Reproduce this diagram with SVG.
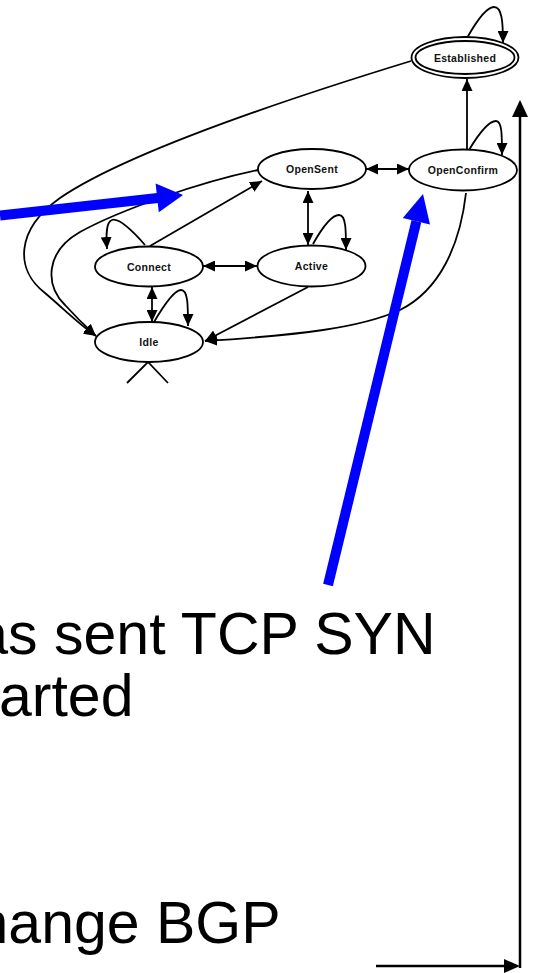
<svg xmlns="http://www.w3.org/2000/svg" width="533" height="973" viewBox="0 0 533 973">
  <defs>
    <style>
      .node ellipse { fill: #ffffff; stroke: #000000; stroke-width: 1.8; }
      .node text { font-family: "Liberation Sans", Arial, sans-serif; font-weight: bold; font-size: 10.5px; letter-spacing: 0.3px; text-anchor: middle; fill: #111111; }
      .edge { fill: none; stroke: #000000; stroke-width: 1.8; }
      .one { marker-end: url(#head); }
      .two { marker-start: url(#head); marker-end: url(#head); }
      .note { font-family: "Liberation Sans", Arial, Helvetica, sans-serif; font-size: 59px; fill: #000000; }
      .pointer { stroke: #0000ff; stroke-width: 10; fill: none; }
      .pointer-head { fill: #0000ff; }
      .axis { stroke: #000000; stroke-width: 2.5; fill: none; }
    </style>
    <marker id="head" markerUnits="userSpaceOnUse" markerWidth="12" markerHeight="11" refX="12" refY="5.5" orient="auto-start-reverse">
      <path d="M0,0 L12,5.5 L0,11 z" fill="#000000"/>
    </marker>
  </defs>

  <rect width="533" height="973" fill="#ffffff"/>

  <!-- state machine transitions -->
  <g id="connectors">
    <path class="edge one" d="M411,61 C300,95 130,150 60,198 C15,230 15,270 45,293 C65,310 80,325 96,336"/>
    <path class="edge one" d="M258,170 C200,182 120,210 80,232 C45,252 45,285 65,305 C75,316 85,326 96,336"/>
    <path class="edge one" d="M466,193 C460,245 440,290 400,310 C360,328 300,335 205,341"/>
    <path class="edge one" d="M308,287 L205,341"/>
    <path class="edge one" d="M150,246 L262,181"/>
    <path class="edge one" d="M467,150 L467,79"/>
    <path class="edge two" d="M366,169 L409,169"/>
    <path class="edge two" d="M308,191 L308,245"/>
    <path class="edge two" d="M203,266 L257,266"/>
    <path class="edge two" d="M152,287 L152,322"/>
    <!-- self transitions -->
    <path class="edge one" d="M467,38 C476,22 486,7 494,7 C502,7 503,22 503,43"/>
    <path class="edge one" d="M469,150 C478,135 488,121 496,121 C502,121 502,135 502,155"/>
    <path class="edge one" d="M313,244 C322,228 332,215 339,215 C346,215 346,230 346,250"/>
    <path class="edge one" d="M145,245 C130,228 118,218 112,220 C106,222 106,235 107,249"/>
    <path class="edge one" d="M154,322 C164,305 174,290 181,290 C188,290 188,305 188,326"/>
    <!-- initial state wedge -->
    <path class="edge" d="M127,383 L148,362 L168,383"/>
  </g>

  <g id="established" class="node">
    <ellipse cx="465" cy="57.5" rx="53.5" ry="20.5"/>
    <ellipse cx="465" cy="57.5" rx="49.5" ry="16.5"/>
    <text x="465" y="61.5">Established</text>
  </g>
  <g id="opensent" class="node">
    <ellipse cx="312" cy="169" rx="54" ry="20"/>
    <text x="312" y="173">OpenSent</text>
  </g>
  <g id="openconfirm" class="node">
    <ellipse cx="463" cy="170" rx="54" ry="20.5"/>
    <text x="463" y="174">OpenConfirm</text>
  </g>
  <g id="connect" class="node">
    <ellipse cx="149" cy="266.5" rx="54" ry="20"/>
    <text x="149" y="270.5">Connect</text>
  </g>
  <g id="active" class="node">
    <ellipse cx="311.5" cy="266" rx="54" ry="20.5"/>
    <text x="311.5" y="270">Active</text>
  </g>
  <g id="idle" class="node">
    <ellipse cx="149" cy="342" rx="54" ry="20"/>
    <text x="149" y="346">Idle</text>
  </g>

  <!-- blue call-out arrows -->
  <g id="pointers">
    <line class="pointer" x1="0" y1="215.5" x2="160" y2="197.7"/>
    <polygon class="pointer-head" points="183,195 155.6,183.5 158.8,212.3"/>
    <line class="pointer" x1="328" y1="585" x2="416.4" y2="221.2"/>
    <polygon class="pointer-head" points="423,194 402.8,217.9 430,224.5"/>
  </g>

  <!-- right-hand timeline arrows -->
  <g id="timeline">
    <line class="axis" x1="520" y1="968" x2="520" y2="114"/>
    <polygon points="520,100 512,117 528,117" fill="#000000"/>
    <line class="axis" x1="376" y1="966" x2="506" y2="966"/>
    <polygon points="520,966 504,959 504,973" fill="#000000"/>
  </g>

  <g id="notes">
    <text class="note" x="435.5" y="653.5" text-anchor="end">as sent TCP SYN</text>
    <text class="note" x="-1" y="716">arted</text>
    <text class="note" x="280.6" y="943" text-anchor="end">hange BGP</text>
  </g>
</svg>
